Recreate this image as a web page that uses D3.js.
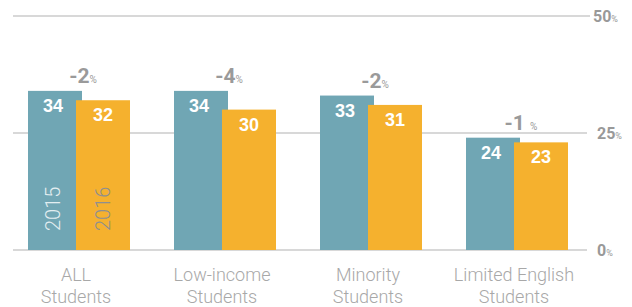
<!DOCTYPE html>
<html lang="en">
<head>
  <meta charset="UTF-8" />
  <title>Students change 2015-2016</title>
  <style>
    body { margin: 0; background: #fff; }
    svg { display: block; }
    .grid { stroke: #cbcbcb; stroke-width: 1.5px; }
    .ytick { font-family: 'Roboto', 'Liberation Sans', sans-serif; font-weight: bold; fill: #999; }
    .val { font-family: 'Liberation Sans', 'Roboto', sans-serif; font-weight: bold; fill: #fff; font-size: 18px; }
    .chg { font-family: 'Roboto', 'Liberation Sans', sans-serif; font-weight: bold; fill: #9a9a9a; }
    .year { font-family: 'Liberation Sans Narrow', 'Roboto', sans-serif; font-weight: 300; font-size: 20px; }
    .cat { font-family: 'Liberation Sans Narrow', 'Roboto', sans-serif; font-weight: 300; font-size: 18px; fill: #a8a8a8; }
  </style>
</head>
<body>
  <svg id="chart"></svg>
  <script src="https://d3js.org/d3.v7.min.js"></script>
  <script>
    const categories = [["ALL", "Students"], ["Low-income", "Students"], ["Minority", "Students"], ["Limited English", "Students"]];
    const values2015 = [34, 34, 33, 24];
    const values2016 = [32, 30, 31, 23];
    const changes = ["-2", "-4", "-2", "-1 "];
    const yTicks = [0, 25, 50];
    const years = ["2015", "2016"];

    const width = 632, height = 307;
    const svg = d3.select("#chart").attr("width", width).attr("height", height);

    const x = d3.scaleBand().domain(d3.range(categories.length)).range([6, 590]);
    const y = d3.scaleLinear().domain([0, 50]).range([250, 16]);

    const blue = "#70a6b4", orange = "#f5b12e";

    // gridlines + right-side labels
    yTicks.forEach(t => {
      svg.append("line").attr("class", "grid")
        .attr("x1", 13).attr("x2", t === 50 ? 590 : 587)
        .attr("y1", y(t)).attr("y2", y(t));
      const lab = svg.append("text").attr("class", "ytick")
        .attr("x", t === 50 ? 593 : 597).attr("y", y(t)).attr("dy", "0.36em");
      lab.append("tspan").attr("font-size", 16).text(t);
      lab.append("tspan").attr("font-size", 9).attr("font-weight", "normal").text("%");
    });

    const c = i => x(i) + x.bandwidth() / 2;
    const bw = 54, off = 51;

    // 2015 bars
    svg.selectAll(".b15").data(values2015).join("rect")
      .attr("x", (d, i) => c(i) - off).attr("width", bw)
      .attr("y", d => y(d)).attr("height", d => y(0) - y(d))
      .attr("fill", blue);

    // 2016 bars
    svg.selectAll(".b16").data(values2016).join("rect")
      .attr("x", (d, i) => c(i) - off + 48).attr("width", bw)
      .attr("y", d => y(d)).attr("height", d => y(0) - y(d))
      .attr("fill", orange);

    svg.selectAll(".v15").data(values2015).join("text").attr("class", "val")
      .attr("x", (d, i) => c(i) - off + 25).attr("y", d => y(d) + 21)
      .attr("text-anchor", "middle").text(d => d);
    svg.selectAll(".v16").data(values2016).join("text").attr("class", "val")
      .attr("x", (d, i) => c(i) - off + 75).attr("y", d => y(d) + 21)
      .attr("text-anchor", "middle").text(d => d);

    // change labels
    changes.forEach((ch, i) => {
      const t = svg.append("text").attr("class", "chg")
        .attr("x", c(i) + 4).attr("y", y(values2015[i]) - 8)
        .attr("text-anchor", "middle");
      t.append("tspan").attr("font-size", 21).text(ch);
      t.append("tspan").attr("font-size", 10).attr("font-weight", "normal").text("%");
    });

    // year labels, inside the first group
    [[years[0], c(0) - off + 25, "#e3eef1"], [years[1], c(0) - off + 75, "#8f8f8f"]].forEach(([s, xx, col]) => {
      svg.append("text").attr("class", "year")
        .attr("transform", `translate(${xx + 7},231) rotate(-90)`)
        .attr("fill", col).text(s);
    });

    // category labels
    categories.forEach((lines, i) => {
      const t = svg.append("text").attr("class", "cat").attr("text-anchor", "middle");
      lines.forEach((l, j) => {
        t.append("tspan").attr("x", c(i) - 3).attr("y", 281 + j * 22).text(l);
      });
    });
  </script>
</body>
</html>
